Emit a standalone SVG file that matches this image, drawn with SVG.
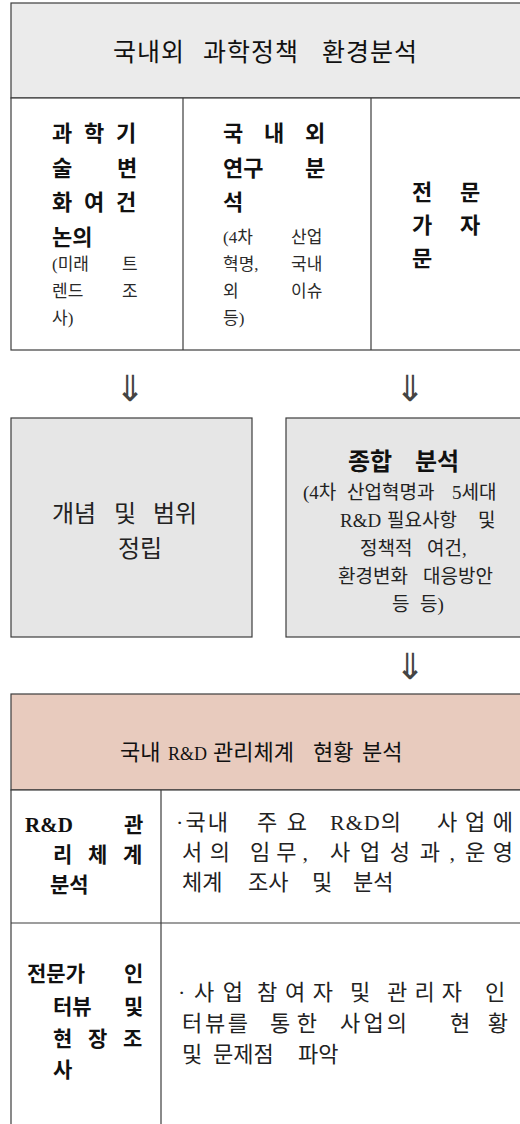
<svg xmlns="http://www.w3.org/2000/svg" width="520" height="1124" viewBox="0 0 520 1124">
<style>
  text { font-family: "Liberation Serif", "Noto Sans CJK KR", serif; fill: #111; }
  .t { font-size: 25px; letter-spacing: 1px; }
  .h { font-size: 22px; }
  .hl { font-size: 18px; }
  .b { font-size: 22px; font-weight: bold; }
  .bb { font-size: 24px; font-weight: bold; }
  .s { font-size: 17px; fill: #2a2a2a; }
  .m { font-size: 24px; fill: #222; }
  .x { font-size: 19px; fill: #222; }
  .r { font-size: 22px; fill: #222; }
  .rb { font-size: 21px; font-weight: bold; }
  .arw { font-family: "Noto Sans CJK KR", "DejaVu Sans", sans-serif; font-size: 36px; fill: #444; text-anchor: middle; }
  .ln { stroke: #3c3c3c; stroke-width: 1.2; fill: none; }
  .gray { fill: #ebebeb; stroke: #3c3c3c; stroke-width: 1.2; }
  .box { fill: #e6e6e6; stroke: #3c3c3c; stroke-width: 1.2; }
  .pink { fill: #e8cbbe; stroke: #3c3c3c; stroke-width: 1.2; }
  .white { fill: #ffffff; stroke: #3c3c3c; stroke-width: 1.2; }
</style>

<g id="env-analysis">
  <rect class="gray" x="11" y="3" width="515" height="95"/>
  <rect class="white" x="11" y="98" width="515" height="252"/>
  <line class="ln" x1="183" y1="98" x2="183" y2="350"/>
  <line class="ln" x1="371" y1="98" x2="371" y2="350"/>
  <text class="t" y="61"><tspan x="113">국내외</tspan><tspan x="203">과학정책</tspan><tspan x="322">환경분석</tspan></text>
</g>

<g id="cell-tech-change">
  <text class="b" y="141"><tspan x="52">과</tspan><tspan x="84">학</tspan><tspan x="116">기</tspan></text>
  <text class="b" y="176"><tspan x="52">술</tspan><tspan x="117">변</tspan></text>
  <text class="b" y="210"><tspan x="52">화</tspan><tspan x="84">여</tspan><tspan x="116">건</tspan></text>
  <text class="b" x="52" y="245">논의</text>
  <text class="s" y="270"><tspan x="52">(미래</tspan><tspan x="122">트</tspan></text>
  <text class="s" y="297"><tspan x="52">렌드</tspan><tspan x="122">조</tspan></text>
  <text class="s" x="52" y="324">사)</text>
</g>

<g id="cell-research">
  <text class="b" y="141"><tspan x="223">국</tspan><tspan x="264">내</tspan><tspan x="305">외</tspan></text>
  <text class="b" y="176"><tspan x="223">연구</tspan><tspan x="305">분</tspan></text>
  <text class="b" x="223" y="210">석</text>
  <text class="s" y="243"><tspan x="223">(4차</tspan><tspan x="291">산업</tspan></text>
  <text class="s" y="270"><tspan x="223">혁명,</tspan><tspan x="291">국내</tspan></text>
  <text class="s" y="297"><tspan x="223">외</tspan><tspan x="291">이슈</tspan></text>
  <text class="s" x="223" y="324">등)</text>
</g>

<g id="cell-expert">
  <text class="b" y="200"><tspan x="412">전</tspan><tspan x="460">문</tspan></text>
  <text class="b" y="233"><tspan x="412">가</tspan><tspan x="460">자</tspan></text>
  <text class="b" x="412" y="266">문</text>
</g>

<g id="concept-scope">
  <rect class="box" x="11" y="418" width="241" height="219"/>
  <text class="m" y="522"><tspan x="52">개념</tspan><tspan x="114">및</tspan><tspan x="153">범위</tspan></text>
  <text class="m" x="118" y="557">정립</text>
</g>

<g id="synthesis">
  <rect class="box" x="286" y="418" width="240" height="219"/>
  <text class="bb" y="470"><tspan x="348">종합</tspan><tspan x="415">분석</tspan></text>
  <text class="x" y="499"><tspan x="303">(4차</tspan><tspan x="347">산업혁명과</tspan><tspan x="452">5세대</tspan></text>
  <text class="x" y="527"><tspan x="340">R&amp;D</tspan><tspan x="387">필요사항</tspan><tspan x="478">및</tspan></text>
  <text class="x" y="555"><tspan x="360">정책적</tspan><tspan x="427">여건,</tspan></text>
  <text class="x" y="583"><tspan x="338">환경변화</tspan><tspan x="423">대응방안</tspan></text>
  <text class="x" y="611"><tspan x="392">등</tspan><tspan x="420">등)</tspan></text>
</g>

<g id="domestic-rd">
  <rect class="pink" x="11" y="694" width="515" height="96"/>
  <rect class="white" x="11" y="790" width="515" height="340"/>
  <line class="ln" x1="161" y1="790" x2="161" y2="1124"/>
  <line class="ln" x1="11" y1="923" x2="526" y2="923"/>
  <text class="h" x="120" y="760">국내</text>
  <text class="hl" x="168" y="760">R&amp;D</text>
  <text class="h" y="760"><tspan x="213">관리체계</tspan><tspan x="313">현황</tspan><tspan x="362">분석</tspan></text>
</g>

<g id="row-rd-system">
  <text class="rb" y="832"><tspan x="25">R&amp;D</tspan><tspan x="124">관</tspan></text>
  <text class="rb" y="862"><tspan x="53">리</tspan><tspan x="88">체</tspan><tspan x="123">계</tspan></text>
  <text class="rb" x="50" y="892">분석</text>
  <text class="r" x="176" y="830" textLength="52" lengthAdjust="spacing">·국내</text>
  <text class="r" x="257" y="830" textLength="50" lengthAdjust="spacing">주요</text>
  <text class="r" x="330" y="830" letter-spacing="1">R&amp;D의</text>
  <text class="r" x="437" y="830" textLength="76" lengthAdjust="spacing">사업에</text>
  <text class="r" x="182" y="860" textLength="48" lengthAdjust="spacing">서의</text>
  <text class="r" x="250" y="860" textLength="58" lengthAdjust="spacing">임무,</text>
  <text class="r" x="330" y="860" textLength="125" lengthAdjust="spacing">사업성과,</text>
  <text class="r" x="465" y="860" textLength="48" lengthAdjust="spacing">운영</text>
  <text class="r" y="890"><tspan x="182">체계</tspan><tspan x="248">조사</tspan><tspan x="312">및</tspan><tspan x="353">분석</tspan></text>
</g>

<g id="row-interview">
  <text class="rb" y="981"><tspan x="27">전문가</tspan><tspan x="124">인</tspan></text>
  <text class="rb" y="1014"><tspan x="53">터뷰</tspan><tspan x="124">및</tspan></text>
  <text class="rb" y="1046"><tspan x="53">현</tspan><tspan x="88">장</tspan><tspan x="123">조</tspan></text>
  <text class="rb" x="53" y="1077">사</text>
  <text class="r" x="178" y="1000" textLength="65" lengthAdjust="spacing">·사업</text>
  <text class="r" x="257" y="1000" textLength="76" lengthAdjust="spacing">참여자</text>
  <text class="r" x="350" y="1000">및</text>
  <text class="r" x="387" y="1000" textLength="75" lengthAdjust="spacing">관리자</text>
  <text class="r" x="485" y="1000">인</text>
  <text class="r" x="182" y="1031" textLength="66" lengthAdjust="spacing">터뷰를</text>
  <text class="r" x="270" y="1031" textLength="47" lengthAdjust="spacing">통한</text>
  <text class="r" x="340" y="1031" textLength="67" lengthAdjust="spacing">사업의</text>
  <text class="r" x="450" y="1031" textLength="58" lengthAdjust="spacing">현황</text>
  <text class="r" y="1062"><tspan x="182">및</tspan><tspan x="213">문제점</tspan><tspan x="298">파악</tspan></text>
</g>

<g id="connectors">
  <text class="arw" x="130" y="401">⇓</text>
  <text class="arw" x="410" y="401">⇓</text>
  <text class="arw" x="410" y="679">⇓</text>
</g>
</svg>
